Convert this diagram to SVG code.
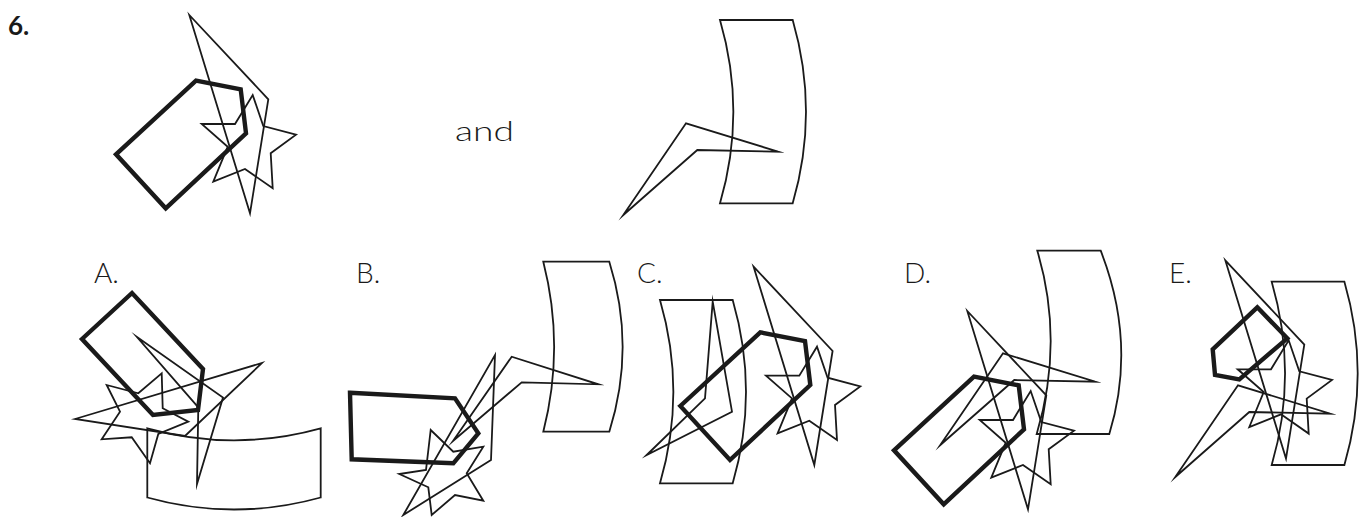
<svg xmlns="http://www.w3.org/2000/svg" width="1367" height="517" viewBox="0 0 1367 517">
<style>
.t{fill:none;stroke:#1a1a1a;stroke-width:1.8;stroke-linejoin:miter;stroke-miterlimit:12}
.k{fill:none;stroke:#1a1a1a;stroke-width:4.4;stroke-linejoin:miter;stroke-miterlimit:12}
.lb{font-family:Lato,"DejaVu Sans",sans-serif;font-weight:300;font-size:28px;fill:#1a1a1a}
</style>
<defs>
<polygon id="pent" points="116,154.3 196,80.7 240.7,89.3 246,133.3 165.7,208.3"/>
<polygon id="kite" points="189.3,15 268.3,99.3 250,213.3"/>
<polygon id="star" points="201.7,124 235,124 252.7,95 263.3,126 296,134.7 270.7,153.3 272.7,188.3 245,169 213.3,181.7 227.7,146.7"/>
<polygon id="chev" points="623.3,215 686,123.3 778.3,151.7 697.3,150"/>
<path id="band" d="M720,20 L792.7,20 Q819.3,111.7 792.7,203.3 L720,203.3 Q746.7,111.7 720,20 Z"/>
</defs>
<rect width="1367" height="517" fill="#fff"/>
<g id="labels">
<text x="8" y="35" font-family="Lato,'DejaVu Sans',sans-serif" font-weight="bold" font-size="26" fill="#1a1a1a">6.</text>
<text x="455" y="141" class="lb" textLength="59" lengthAdjust="spacingAndGlyphs">and</text>
<text x="94" y="283" class="lb">A.</text>
<text x="356" y="283" class="lb">B.</text>
<text x="637" y="283" class="lb">C.</text>
<text x="904" y="283" class="lb">D.</text>
<text x="1169" y="283" class="lb">E.</text>
</g>
<g id="question-left">
<use href="#kite" class="t"/>
<use href="#star" class="t"/>
<use href="#pent" class="k"/>
</g>
<g id="question-right">
<use href="#band" class="t"/>
<use href="#chev" class="t"/>
</g>
<g id="option-a">
<path class="t" d="M147.3,428.3 Q234,452.3 320.7,428.3 L320.7,497.5 Q234,521.5 147.3,497.5 Z"/>
<polygon class="t" points="75,419 262,363 185,436"/>
<polygon class="t" points="137,337 223,397.5 197,484 198.3,407.3"/>
<polygon class="t" points="161.7,373.3 162.7,408.3 188.3,421.7 158.3,434 150,463.3 131.7,437.3 101.7,439.3 120,411.7 106.7,385 138.3,393.3"/>
<polygon class="k" points="82,339 132,293 203,369 198,410 153,415"/>
</g>
<g id="option-b">
<path class="t" d="M543.3,261.7 L609.3,261.7 Q636,346.7 609.3,431.7 L543.3,431.7 Q565,346.7 543.3,261.7 Z"/>
<polygon class="t" points="453,441 511.7,356.7 598.3,384.3 521.7,382.3"/>
<polygon class="t" points="495,355 491,460 403.3,515"/>
<polygon class="t" points="430.7,430 453.3,451.7 483.3,446.7 466.7,473.3 483.3,500.7 455,495 431.7,515 428.3,487.3 399.3,474 426,470"/>
<polygon class="k" points="350,392.7 455,398.3 478.3,433.3 453.3,463.3 351.7,459.3"/>
</g>
<g id="option-c">
<path class="t" d="M660,300 L732.7,300 Q759.3,391.7 732.7,483.3 L660,483.3 Q686.7,391.7 660,300 Z"/>
<polygon class="t" points="646.7,455 705,398.3 712.7,301.7 732,411.7"/>
<g transform="translate(564.3,251.7)">
<use href="#kite" class="t"/>
<use href="#star" class="t"/>
<use href="#pent" class="k"/>
</g>
</g>
<g id="option-d">
<path class="t" d="M1037.3,250.7 L1100.7,250.7 Q1137,343.6 1109.3,434 L1036.7,434 Q1064.4,341.7 1037.3,250.7 Z"/>
<use href="#chev" class="t" transform="translate(317,230)"/>
<g transform="translate(778,296)">
<use href="#kite" class="t"/>
<use href="#star" class="t"/>
<use href="#pent" class="k"/>
</g>
</g>
<g id="option-e">
<use href="#band" class="t" transform="translate(551.7,261.7)"/>
<use href="#chev" class="t" transform="translate(552,262)"/>
<g transform="translate(1036,245.3)">
<use href="#kite" class="t"/>
<use href="#star" class="t"/>
</g>
<polygon class="k" points="1257.3,307.3 1287.3,338.3 1239.3,379.3 1215,375 1212.7,349.3"/>
</g>
</svg>
